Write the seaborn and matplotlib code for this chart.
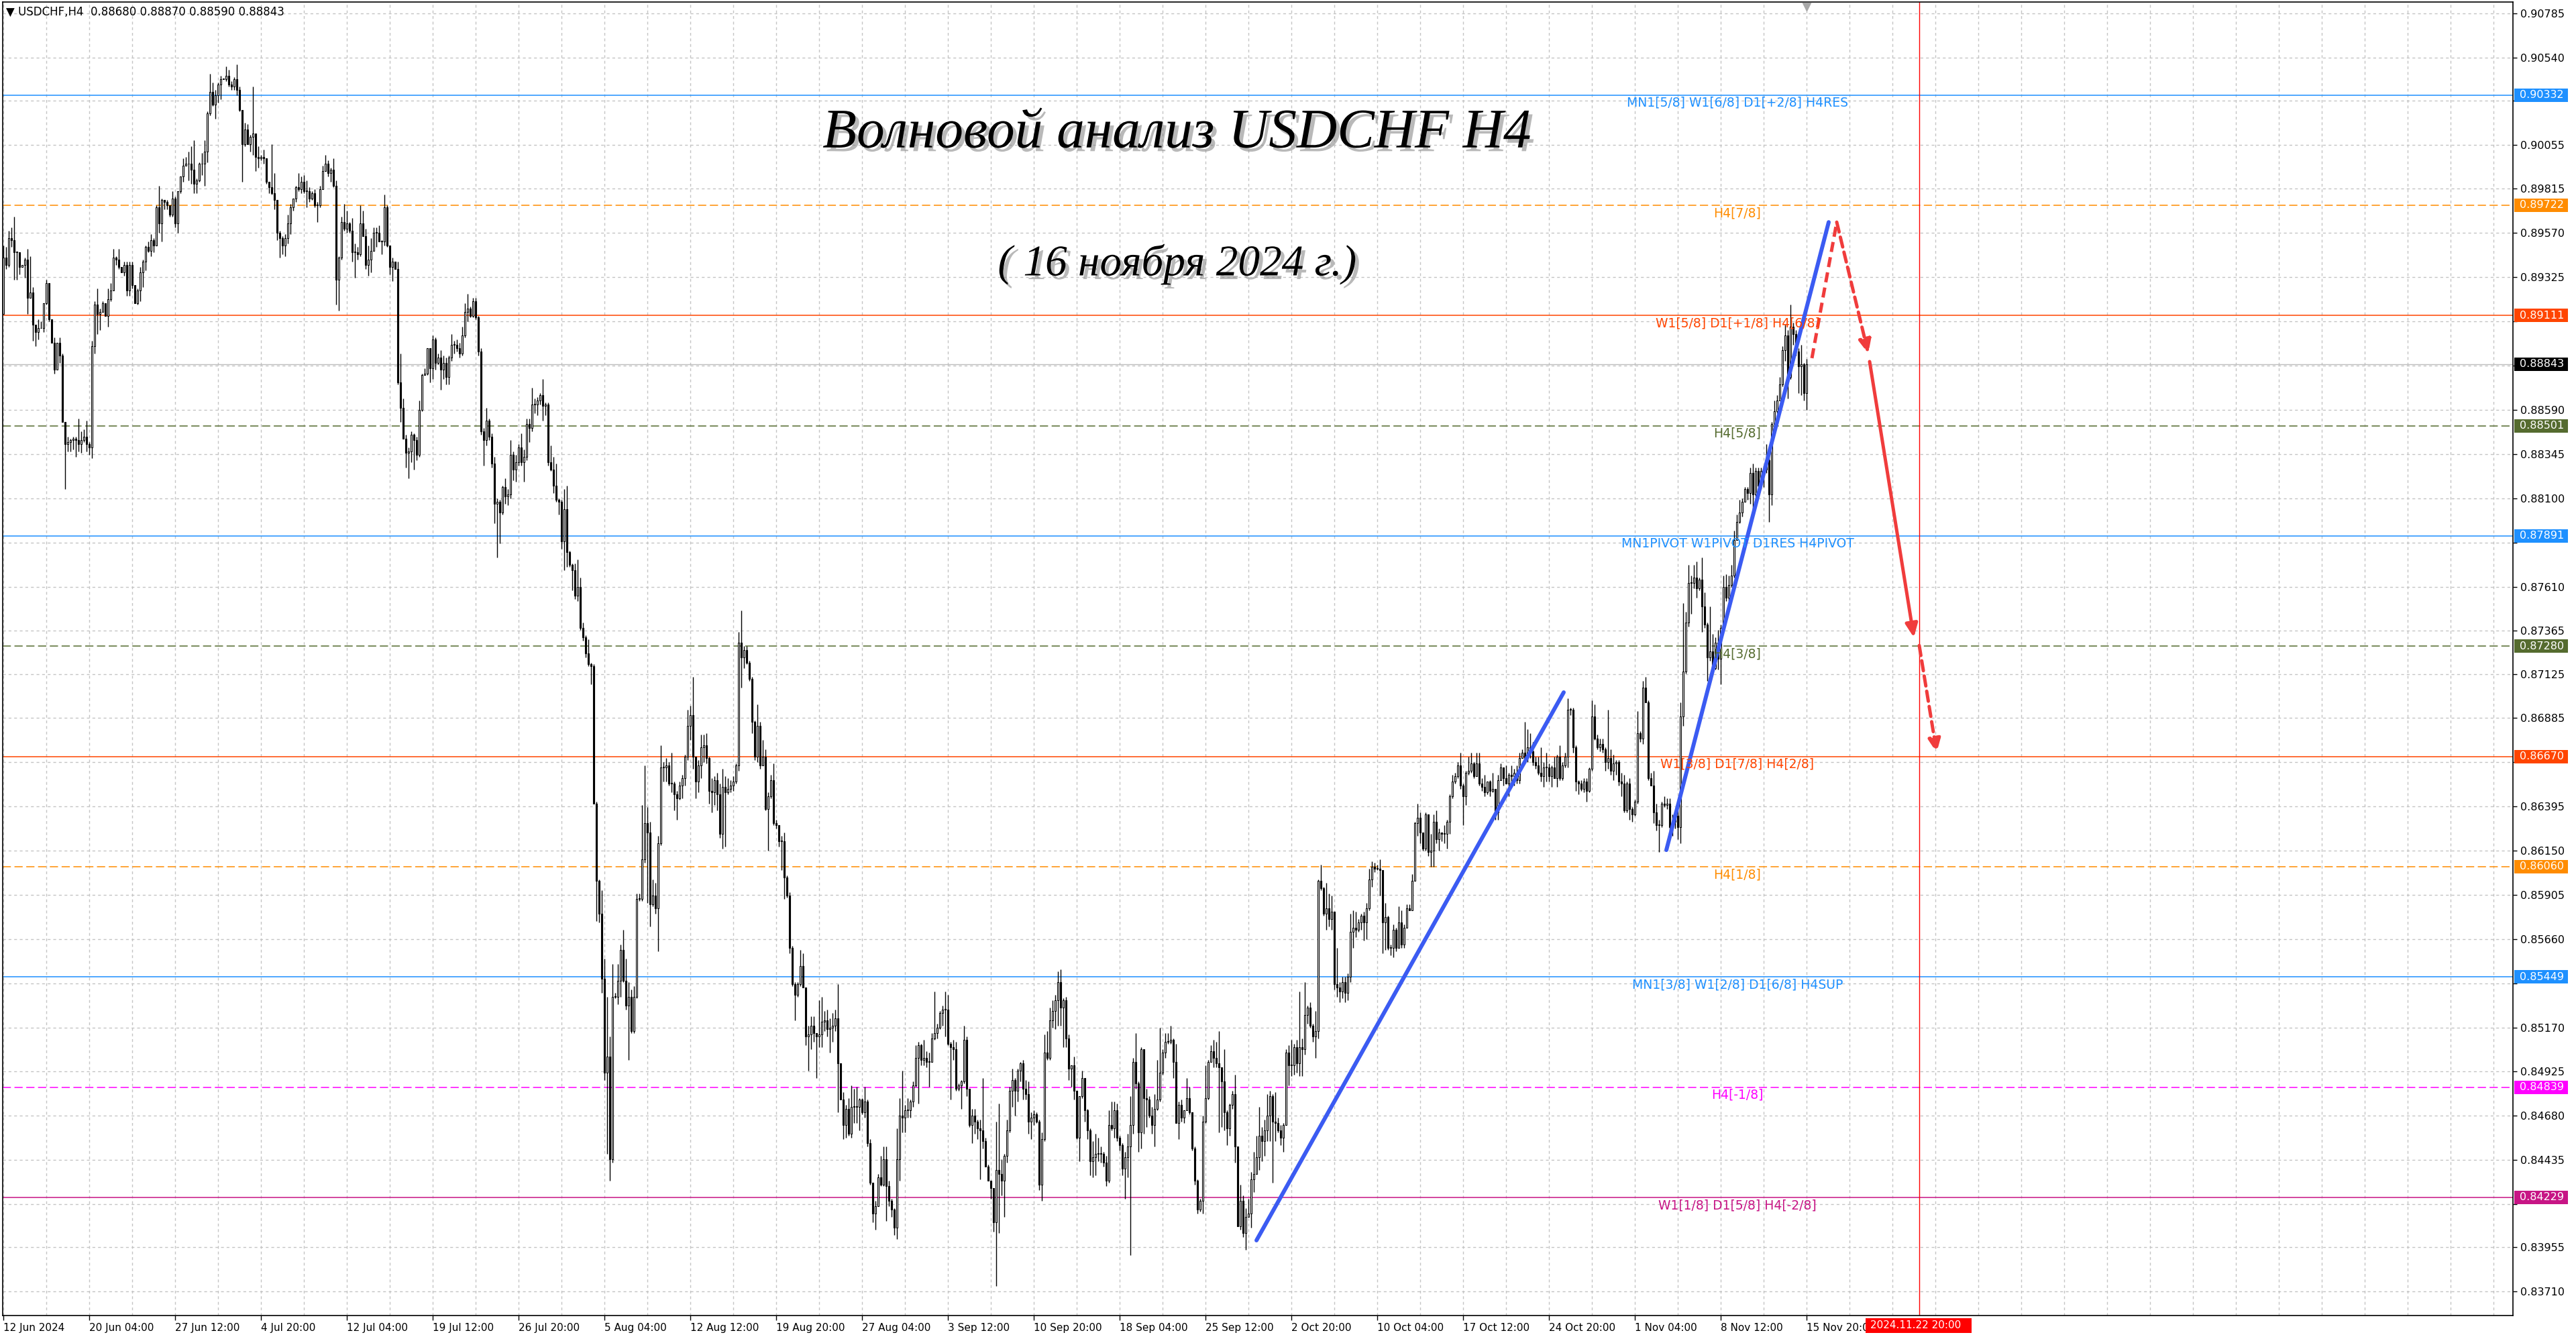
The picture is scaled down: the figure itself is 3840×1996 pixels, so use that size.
import numpy as np
import matplotlib
matplotlib.use('Agg')
import matplotlib.pyplot as plt
import matplotlib.patheffects as pe
from matplotlib.patches import Rectangle
from matplotlib.transforms import blended_transform_factory
import seaborn as sns

W, H = 3840, 1996

# H4 bars of USDCHF, prices in pips (x 0.0001); open of a bar = previous close
first_open = 8912
closes = [
    8943, 8939, 8954, 8953, 8946, 8946, 8938, 8939, 8942, 8921, 8924, 8906, 8902, 8904, 8904, 8918, 8929, 8909, 8896, 8881,
    8896, 8889, 8852, 8840, 8841, 8842, 8843, 8842, 8840, 8842, 8844, 8840, 8838, 8894, 8917, 8912, 8913, 8918, 8911, 8920,
    8925, 8943, 8942, 8938, 8935, 8939, 8925, 8939, 8928, 8918, 8925, 8935, 8941, 8949, 8947, 8953, 8950, 8971, 8962, 8975,
    8974, 8972, 8967, 8976, 8962, 8980, 8988, 8994, 8995, 8995, 8992, 8984, 8986, 8995, 8995, 9002, 9023, 9035, 9028, 9033,
    9039, 9042, 9042, 9044, 9039, 9038, 9042, 9036, 9025, 9006, 9014, 9006, 9010, 9012, 8999, 8998, 8999, 8998, 8985, 8982,
    8979, 8975, 8957, 8954, 8950, 8954, 8962, 8971, 8976, 8982, 8981, 8985, 8980, 8980, 8976, 8979, 8972, 8972, 8981, 8991,
    8995, 8990, 8992, 8983, 8931, 8943, 8963, 8959, 8962, 8958, 8946, 8946, 8945, 8962, 8955, 8939, 8942, 8947, 8957, 8957,
    8952, 8952, 8971, 8950, 8938, 8941, 8937, 8874, 8860, 8843, 8835, 8836, 8845, 8842, 8834, 8859, 8878, 8879, 8893, 8882,
    8898, 8885, 8888, 8881, 8885, 8877, 8888, 8895, 8895, 8893, 8890, 8900, 8913, 8915, 8911, 8919, 8910, 8891, 8847, 8842,
    8853, 8844, 8829, 8807, 8808, 8802, 8816, 8811, 8812, 8834, 8826, 8830, 8838, 8830, 8833, 8851, 8849, 8862, 8862, 8864,
    8867, 8861, 8862, 8830, 8826, 8817, 8809, 8808, 8786, 8804, 8780, 8773, 8770, 8756, 8761, 8738, 8733, 8724, 8718, 8717,
    8641, 8598, 8580, 8544, 8492, 8501, 8444, 8534, 8534, 8543, 8560, 8543, 8529, 8534, 8515, 8534, 8588, 8588, 8610, 8630,
    8625, 8585, 8590, 8583, 8619, 8661, 8661, 8662, 8652, 8652, 8646, 8644, 8651, 8655, 8667, 8684, 8690, 8667, 8653, 8662,
    8672, 8673, 8666, 8648, 8647, 8654, 8646, 8624, 8650, 8647, 8649, 8651, 8653, 8662, 8730, 8722, 8726, 8719, 8710, 8686,
    8667, 8684, 8662, 8667, 8638, 8645, 8654, 8630, 8629, 8620, 8620, 8600, 8590, 8561, 8541, 8535, 8541, 8551, 8539, 8512,
    8513, 8518, 8514, 8512, 8513, 8520, 8521, 8516, 8517, 8518, 8522, 8497, 8477, 8463, 8472, 8458, 8473, 8473, 8473, 8477,
    8470, 8476, 8453, 8431, 8414, 8418, 8434, 8430, 8444, 8429, 8421, 8416, 8406, 8444, 8468, 8467, 8471, 8471, 8476, 8485,
    8500, 8507, 8499, 8500, 8498, 8498, 8511, 8514, 8517, 8525, 8527, 8527, 8508, 8506, 8505, 8483, 8485, 8487, 8510, 8483,
    8463, 8468, 8465, 8461, 8460, 8454, 8440, 8432, 8428, 8409, 8438, 8436, 8432, 8446, 8460, 8482, 8488, 8482, 8493, 8497,
    8483, 8480, 8465, 8467, 8469, 8465, 8430, 8455, 8503, 8500, 8521, 8526, 8532, 8542, 8528, 8532, 8511, 8494, 8496, 8482,
    8456, 8479, 8489, 8471, 8460, 8443, 8445, 8447, 8447, 8447, 8442, 8432, 8463, 8461, 8471, 8456, 8452, 8439, 8445, 8451,
    8463, 8498, 8486, 8459, 8505, 8478, 8477, 8468, 8463, 8472, 8477, 8492, 8503, 8509, 8509, 8510, 8498, 8464, 8474, 8467,
    8471, 8478, 8470, 8450, 8432, 8416, 8421, 8465, 8478, 8498, 8504, 8500, 8497, 8495, 8487, 8470, 8461, 8474, 8480, 8451,
    8407, 8421, 8403, 8412, 8414, 8433, 8436, 8445, 8457, 8454, 8460, 8468, 8479, 8465, 8464, 8460, 8456, 8463, 8503, 8496,
    8496, 8506, 8497, 8506, 8505, 8524, 8528, 8518, 8512, 8515, 8598, 8594, 8580, 8583, 8577, 8581, 8541, 8539, 8537, 8542,
    8536, 8545, 8570, 8572, 8571, 8575, 8579, 8575, 8583, 8599, 8606, 8605, 8605, 8604, 8575, 8578, 8561, 8561, 8571, 8561,
    8575, 8563, 8572, 8583, 8582, 8598, 8630, 8633, 8625, 8616, 8635, 8614, 8615, 8631, 8621, 8625, 8624, 8624, 8631, 8645,
    8653, 8656, 8662, 8651, 8645, 8658, 8659, 8663, 8656, 8663, 8652, 8650, 8647, 8653, 8648, 8649, 8636, 8654, 8661, 8655,
    8652, 8657, 8656, 8658, 8654, 8666, 8669, 8666, 8672, 8670, 8664, 8662, 8658, 8656, 8661, 8661, 8656, 8661, 8655, 8667,
    8655, 8662, 8667, 8693, 8693, 8672, 8653, 8652, 8649, 8653, 8648, 8660, 8689, 8677, 8672, 8674, 8671, 8664, 8666, 8659,
    8663, 8664, 8653, 8652, 8637, 8652, 8638, 8635, 8642, 8680, 8677, 8705, 8697, 8655, 8651, 8636, 8629, 8629, 8641, 8640,
    8641, 8628, 8631, 8634, 8628, 8689, 8714, 8741, 8763, 8763, 8766, 8760, 8765, 8750, 8740, 8722, 8725, 8716, 8730, 8721,
    8738, 8761, 8755, 8762, 8767, 8787, 8797, 8802, 8808, 8815, 8813, 8824, 8812, 8825, 8817, 8825, 8826, 8831, 8812, 8851,
    8858, 8864, 8873, 8892, 8900, 8877, 8905, 8901, 8891, 8883, 8884, 8868, 8884.3,
]
# wick length above / below the candle body, pips
upper_wick = [
    7, 6, 4, 6, 13, 0, 0, 0, 1, 6, 20, 3, 0, 5, 4, 0, 2, 0, 0, 3,
    0, 3, 1, 0, 3, 1, 1, 1, 12, 5, 4, 9, 1, 3, 2, 9, 2, 1, 0, 6,
    4, 5, 1, 6, 0, 2, 2, 2, 2, 0, 1, 3, 1, 1, 3, 3, 1, 1, 12, 1,
    0, 1, 0, 4, 1, 0, 0, 4, 4, 7, 10, 16, 1, 1, 6, 6, 1, 10, 5, 3,
    1, 2, 0, 5, 3, 2, 1, 8, 2, 0, 4, 3, 1, 26, 0, 6, 1, 4, 0, 0,
    24, 11, 0, 1, 1, 2, 5, 2, 0, 1, 8, 3, 4, 6, 2, 1, 2, 2, 2, 3,
    5, 2, 1, 6, 3, 1, 3, 10, 7, 1, 7, 5, 3, 10, 7, 4, 8, 7, 3, 3,
    4, 1, 7, 1, 0, 2, 0, 4, 16, 5, 2, 2, 2, 1, 2, 5, 1, 3, 0, 0,
    2, 1, 2, 4, 4, 3, 1, 6, 2, 3, 3, 5, 5, 8, 1, 2, 2, 1, 2, 2,
    7, 1, 2, 4, 2, 1, 1, 5, 3, 8, 2, 4, 2, 8, 4, 3, 3, 9, 3, 2,
    1, 9, 1, 1, 9, 7, 12, 1, 1, 11, 13, 1, 1, 4, 15, 5, 3, 1, 8, 1,
    1, 1, 1, 13, 11, 33, 11, 18, 2, 9, 3, 11, 12, 8, 4, 6, 3, 3, 30, 32,
    9, 6, 9, 7, 4, 12, 3, 4, 2, 17, 1, 2, 2, 2, 1, 9, 5, 21, 0, 3,
    7, 6, 7, 1, 7, 2, 4, 6, 10, 6, 6, 3, 3, 1, 6, 18, 2, 2, 1, 1,
    1, 12, 2, 9, 4, 2, 3, 9, 2, 0, 3, 5, 1, 2, 1, 1, 1, 9, 7, 0,
    5, 5, 5, 0, 19, 14, 5, 6, 5, 7, 5, 19, 0, 4, 2, 6, 12, 10, 11, 1,
    1, 8, 1, 2, 0, 3, 2, 12, 7, 7, 3, 1, 1, 17, 10, 25, 3, 7, 1, 2,
    7, 2, 1, 10, 4, 5, 3, 23, 2, 1, 2, 10, 8, 1, 4, 4, 1, 1, 8, 2,
    0, 4, 4, 1, 5, 29, 2, 1, 0, 0, 27, 37, 8, 1, 6, 2, 6, 1, 1, 1,
    2, 5, 7, 3, 2, 1, 1, 4, 10, 12, 7, 6, 3, 6, 7, 1, 2, 2, 0, 5,
    0, 0, 4, 0, 1, 1, 9, 11, 9, 4, 1, 4, 8, 13, 5, 4, 1, 1, 3, 7,
    16, 2, 16, 1, 1, 0, 5, 2, 5, 8, 22, 25, 2, 5, 5, 8, 1, 10, 2, 3,
    0, 11, 6, 0, 1, 1, 1, 3, 18, 1, 3, 6, 9, 18, 0, 18, 1, 1, 2, 11,
    0, 9, 3, 5, 8, 4, 12, 12, 16, 5, 6, 12, 3, 1, 16, 3, 3, 1, 2, 4,
    14, 2, 4, 31, 5, 18, 1, 3, 1, 11, 1, 9, 1, 14, 8, 9, 0, 20, 3, 3,
    3, 2, 10, 10, 9, 2, 1, 2, 3, 6, 3, 2, 2, 5, 0, 8, 1, 2, 3, 1,
    9, 7, 2, 2, 2, 4, 1, 8, 3, 0, 1, 0, 9, 4, 6, 2, 0, 5, 1, 1,
    4, 2, 2, 7, 1, 1, 8, 6, 1, 6, 6, 3, 7, 0, 1, 9, 0, 3, 2, 0,
    7, 1, 5, 2, 4, 3, 2, 17, 10, 8, 5, 3, 5, 14, 3, 8, 2, 1, 6, 1,
    6, 2, 2, 6, 1, 1, 1, 1, 2, 2, 2, 1, 9, 7, 2, 3, 3, 1, 27, 5,
    5, 1, 1, 5, 5, 1, 3, 1, 1, 12, 1, 4, 6, 1, 3, 8, 5, 3, 1, 4,
    3, 3, 4, 2, 3, 8, 38, 6, 10, 4, 7, 9, 1, 12, 8, 1, 25, 10, 3, 7,
    2, 6, 7, 5, 6, 5, 4, 7, 2, 1, 1, 3, 5, 2, 2, 2, 2, 9, 4, 1,
    6, 3, 4, 2, 6, 3, 12, 2, 2, 2, 11, 1, 2.7,
]
lower_wick = [
    0, 2, 1, 4, 15, 15, 4, 0, 7, 9, 0, 9, 8, 4, 0, 2, 1, 1, 0, 2,
    0, 4, 0, 25, 4, 5, 5, 9, 4, 5, 1, 4, 4, 6, 4, 11, 9, 0, 0, 6,
    1, 0, 3, 1, 0, 2, 3, 3, 2, 0, 1, 6, 8, 5, 1, 3, 4, 0, 5, 10,
    4, 2, 1, 1, 2, 5, 1, 3, 0, 9, 8, 5, 5, 1, 6, 12, 6, 1, 1, 8,
    4, 8, 0, 1, 1, 2, 2, 3, 1, 21, 1, 0, 4, 10, 8, 5, 1, 3, 1, 3,
    1, 5, 4, 11, 5, 6, 3, 6, 2, 2, 1, 2, 1, 9, 2, 1, 1, 9, 1, 0,
    0, 2, 5, 1, 14, 17, 1, 1, 2, 1, 5, 14, 3, 1, 0, 2, 6, 7, 0, 8,
    0, 7, 2, 1, 4, 8, 0, 1, 8, 0, 8, 14, 6, 16, 3, 1, 1, 0, 1, 8,
    6, 4, 1, 11, 5, 4, 4, 2, 5, 2, 2, 1, 1, 5, 1, 1, 1, 2, 2, 14,
    3, 2, 2, 11, 30, 17, 1, 4, 5, 2, 6, 7, 2, 2, 11, 2, 8, 2, 5, 6,
    2, 8, 5, 2, 1, 4, 1, 7, 4, 16, 8, 1, 11, 2, 3, 1, 2, 2, 1, 10,
    0, 22, 5, 8, 4, 45, 12, 2, 1, 4, 9, 1, 2, 30, 1, 1, 1, 1, 1, 2,
    39, 12, 1, 3, 24, 1, 8, 8, 1, 5, 9, 12, 1, 7, 4, 2, 8, 7, 9, 6,
    7, 8, 3, 7, 11, 7, 9, 2, 8, 30, 1, 2, 3, 1, 3, 17, 6, 1, 1, 6,
    2, 3, 2, 0, 1, 23, 1, 1, 2, 3, 16, 12, 1, 3, 1, 14, 1, 1, 0, 5,
    19, 8, 5, 23, 6, 7, 5, 4, 13, 8, 3, 27, 0, 8, 7, 1, 2, 9, 9, 13,
    1, 3, 2, 1, 5, 9, 0, 1, 1, 19, 3, 4, 4, 6, 12, 8, 8, 4, 4, 3,
    1, 25, 3, 3, 3, 14, 0, 1, 3, 1, 7, 15, 1, 29, 6, 1, 1, 13, 1, 4,
    1, 10, 7, 6, 27, 4, 0, 0, 6, 5, 35, 33, 8, 20, 4, 1, 9, 14, 6, 6,
    6, 3, 7, 10, 4, 1, 3, 9, 1, 1, 1, 4, 10, 14, 10, 22, 5, 6, 10, 5,
    1, 13, 1, 6, 5, 8, 9, 10, 4, 5, 2, 3, 1, 1, 5, 2, 3, 4, 17, 11,
    60, 5, 3, 11, 9, 20, 15, 1, 5, 12, 1, 1, 1, 3, 1, 1, 9, 0, 9, 2,
    3, 0, 1, 1, 2, 2, 1, 7, 1, 1, 0, 5, 2, 36, 25, 10, 9, 4, 2, 9,
    0, 2, 2, 9, 0, 8, 7, 0, 7, 11, 8, 6, 14, 34, 10, 1, 4, 8, 0, 11,
    6, 5, 5, 7, 15, 3, 5, 1, 3, 12, 4, 1, 1, 9, 4, 6, 3, 5, 6, 4,
    5, 4, 3, 9, 4, 1, 4, 10, 9, 1, 4, 2, 1, 14, 17, 15, 1, 4, 5, 2,
    0, 2, 2, 0, 0, 0, 0, 7, 6, 1, 1, 2, 8, 9, 2, 6, 4, 5, 8, 7,
    1, 1, 1, 2, 16, 5, 1, 1, 1, 0, 1, 2, 2, 1, 3, 1, 4, 4, 0, 4,
    0, 7, 5, 5, 2, 2, 0, 2, 2, 4, 2, 2, 1, 3, 6, 8, 3, 6, 0, 5,
    1, 1, 1, 6, 3, 3, 5, 6, 1, 2, 6, 1, 1, 1, 1, 2, 2, 5, 4, 2,
    5, 6, 2, 7, 1, 1, 6, 4, 1, 1, 2, 3, 0, 1, 0, 6, 3, 15, 1, 1,
    2, 2, 5, 4, 7, 9, 5, 1, 2, 17, 3, 5, 1, 14, 2, 13, 2, 1, 1, 6,
    14, 1, 2, 2, 1, 1, 0, 1, 2, 0, 4, 6, 9, 1, 1, 2, 9, 2, 15, 6,
    1, 1, 0, 1, 6, 12, 1, 6, 2, 15, 16, 4, 9,
]

time_labels = ['12 Jun 2024', '20 Jun 04:00', '27 Jun 12:00', '4 Jul 20:00', '12 Jul 04:00',
               '19 Jul 12:00', '26 Jul 20:00', '5 Aug 04:00', '12 Aug 12:00', '19 Aug 20:00',
               '27 Aug 04:00', '3 Sep 12:00', '10 Sep 20:00', '18 Sep 04:00', '25 Sep 12:00',
               '2 Oct 20:00', '10 Oct 04:00', '17 Oct 12:00', '24 Oct 20:00', '1 Nov 04:00',
               '8 Nov 12:00', '15 Nov 20:00']
label_bars = [0] + list(range(32, 673, 32))

tick_prices = [0.90785, 0.90540, 0.90300, 0.90055, 0.89815, 0.89570, 0.89325, 0.89080, 0.88835,
               0.88590, 0.88345, 0.88100, 0.87855, 0.87610, 0.87365, 0.87125, 0.86885, 0.86640,
               0.86395, 0.86150, 0.85905, 0.85660, 0.85415, 0.85170, 0.84925, 0.84680, 0.84435,
               0.84190, 0.83955, 0.83710]
hidden_ticks = [0.90300, 0.89080, 0.88835, 0.87855, 0.86640, 0.85415, 0.84190]

level_prices = [0.90332, 0.89722, 0.89111, 0.88501, 0.87891, 0.87280, 0.86670, 0.86060, 0.85449, 0.84839, 0.84229]
level_texts = ['MN1[5/8] W1[6/8] D1[+2/8] H4RES', 'H4[7/8]', 'W1[5/8] D1[+1/8] H4[6/8]', 'H4[5/8]',
               'MN1PIVOT W1PIVOT D1RES H4PIVOT', 'H4[3/8]', 'W1[3/8] D1[7/8] H4[2/8]', 'H4[1/8]',
               'MN1[3/8] W1[2/8] D1[6/8] H4SUP', 'H4[-1/8]', 'W1[1/8] D1[5/8] H4[-2/8]']
level_colors = ['#1E90FF', '#FF8C00', '#FF4500', '#556B2F', '#1E90FF', '#556B2F',
                '#FF4500', '#FF8C00', '#1E90FF', '#FF00FF', '#C71585']
level_dashed = [False, True, False, True, False, True, False, True, False, True, False]
bid_price = 0.88843

# hand drawn wave lines and forecast arrows (bar index, price)
wave_x = [[467, 581.5], [619.75, 680.25]]
wave_y = [[0.83991, 0.87025], [0.86152, 0.89628]]
arrow_x = [[674, 683.25], [683.25, 695], [695.5, 712], [714, 720.5]]
arrow_y = [[0.88875, 0.89628], [0.89628, 0.88901], [0.88856, 0.87329], [0.87284, 0.86691]]
arrow_dashed = [True, True, False, True]
arrow_head = [False, True, True, True]
cursor_bar = 714

sns.set_theme(style='white')
plt.rcParams['font.family'] = ['DejaVu Sans']

fig = plt.figure(figsize=(W / 100, H / 100), dpi=100)
fig.patch.set_facecolor('white')
ax = fig.add_axes([4 / W, 1 - 1961 / H, 3742 / W, 1958 / H])
ax.set_facecolor('white')
ax.set_xlim(-0.25, 935.25)
ax.set_ylim(0.835750, 0.908467)

# grid
for p in tick_prices:
    ax.axhline(p, color='#c4c4c4', lw=1.0, ls=(0, (3, 3)), zorder=0.5)
for b in range(0, 936, 16):
    ax.axvline(b, color='#c4c4c4', lw=1.0, ls=(0, (3, 3)), zorder=0.5)

# levels
ax.axhline(bid_price, color='#bdbdbd', lw=1.0, zorder=1)
for p, c, d in zip(level_prices, level_colors, level_dashed):
    ax.axhline(p, color=c, lw=1.1, ls=(0, (8, 3.5)) if d else '-', zorder=1)

for p, t, c in zip(level_prices, level_texts, level_colors):
    ax.annotate(t, xy=(646.25, p), xytext=(0, -8.5), textcoords='offset points',
                ha='center', va='center', color=c, fontsize=13.5, zorder=8)

ax.axvline(cursor_bar, color='#ff0000', lw=1.0, zorder=2)

# candles
c = np.array(closes, dtype=float)
o = np.r_[first_open, c[:-1]]
x = np.arange(len(c))
hi = np.maximum(o, c) + np.array(upper_wick)
lo = np.minimum(o, c) - np.array(lower_wick)
ax.vlines(x, lo / 1e4, hi / 1e4, color='black', lw=1.0, zorder=3)
bull = c >= o
body = np.maximum(np.abs(c - o), 0.35)
ax.bar(x, body / 1e4, bottom=np.minimum(o, c) / 1e4, width=0.72,
       color=np.where(bull, 'white', 'black'), edgecolor='black', linewidth=0.8, zorder=4)

# wave lines
for xs, ys in zip(wave_x, wave_y):
    ax.plot(xs, ys, color='#3b5bf2', lw=4.3, solid_capstyle='round', zorder=6)

red = '#f03c3c'
for xs, ys, d, h in zip(arrow_x, arrow_y, arrow_dashed, arrow_head):
    ls = (0, (3, 1.6)) if d else '-'
    if h:
        ax.annotate('', xy=(xs[1], ys[1]), xytext=(xs[0], ys[0]),
                    arrowprops=dict(arrowstyle='-|>,head_length=1.0,head_width=0.45', color=red,
                                    lw=3.6, linestyle=ls, shrinkA=0, shrinkB=0), zorder=7)
    else:
        ax.plot(xs, ys, color=red, lw=3.6, ls=ls, zorder=7)

# axes
for s in ax.spines.values():
    s.set_color('black')
    s.set_linewidth(1.2)
ax.yaxis.tick_right()
ax.set_yticks(tick_prices)
ax.set_yticklabels(['' if p in hidden_ticks else f'{p:.5f}' for p in tick_prices])
ax.tick_params(axis='y', which='both', right=True, left=False, length=4, width=1, pad=4,
               labelsize=11.5, colors='black', direction='out')
ax.set_xticks(label_bars)
ax.set_xticklabels(time_labels, ha='left')
ax.tick_params(axis='x', bottom=True, length=5, width=1, pad=3, labelsize=11,
               colors='black', direction='out')
ax.grid(False)

# price boxes on the right scale
trans = blended_transform_factory(fig.transFigure, ax.transData)
half = 10 * 0.3714e-4
for p, col in zip(level_prices + [bid_price], level_colors + ['black']):
    fig.add_artist(Rectangle((3748 / W, p - half), 80 / W, 2 * half, transform=trans,
                             facecolor=col, edgecolor='none', zorder=5))
    fig.text(3756 / W, p, f'{p:.5f}', transform=trans, color='white', fontsize=11.5,
             ha='left', va='center', zorder=6)

# time cursor box
fig.add_artist(Rectangle((2781 / W, 1 - 1987 / H), 158 / W, 22 / H, transform=fig.transFigure,
                         facecolor='#ff0000', edgecolor='none', zorder=5))
fig.text(2788 / W, 1 - 1976 / H, '2024.11.22 20:00', color='white', fontsize=11,
         ha='left', va='center', zorder=6)

# header and chart shift marker
fig.text(9 / W, 1 - 18 / H, '▼ USDCHF,H4  0.88680 0.88870 0.88590 0.88843', fontsize=12,
         ha='left', va='center', color='black')
ax.plot([672], [0.9082], marker='v', color='#a8a8a8', ms=8, clip_on=False, zorder=8)

shadow = [pe.SimplePatchShadow(offset=(4, -4), shadow_rgbFace='#808080', alpha=0.55), pe.Normal()]
fig.text(1755 / W, 1 - 200 / H, 'Волновой анализ USDCHF H4', fontsize=60,
         family=['Liberation Serif', 'DejaVu Serif'], style='italic', ha='center', va='center',
         color='black', path_effects=shadow)
fig.text(1755 / W, 1 - 394 / H, '( 16 ноября 2024 г.)', fontsize=47,
         family=['Liberation Serif', 'DejaVu Serif'], style='italic', ha='center', va='center',
         color='black', path_effects=shadow)

fig.savefig('out.png', dpi=100, facecolor='white')
